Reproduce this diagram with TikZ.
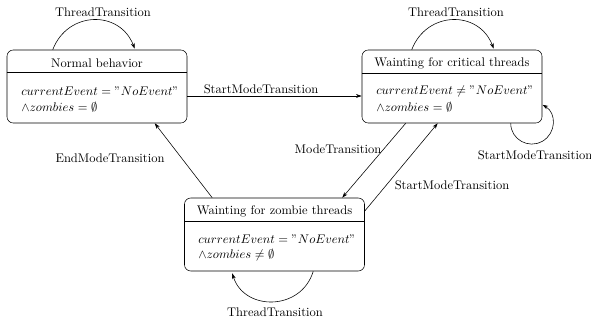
\documentclass[tikz,border=0pt]{standalone}
\usetikzlibrary{calc,arrows.meta}
\begin{document}
\begin{tikzpicture}[x=0.8pt,y=-0.8pt,line width=0.45pt,
  statebox/.style={draw,rounded corners=5pt,inner sep=0pt,minimum width=144pt,minimum height=58.4pt},
  title/.style={inner sep=0pt,anchor=center},
  body/.style={inner sep=0pt,anchor=west},
  lbl/.style={inner sep=0pt,anchor=center},
  arr/.style={-{Stealth[length=4.5pt,width=3pt,inset=1.3pt]}}]
\useasboundingbox (0,0) rectangle (591,324);
% boxes
\node[statebox] (N) at (97,86.5) {};
\node[statebox] (C) at (452,86.5) {};
\node[statebox] (Z) at (274.5,234.5) {};
\draw ($(N.north west)+(0,23)$) -- ($(N.north east)+(0,23)$);
\draw ($(C.north west)+(0,24)$) -- ($(C.north east)+(0,24)$);
\draw ($(Z.north west)+(0,24)$) -- ($(Z.north east)+(0,24)$);
% texts
\node[title] (Nt) at (97,63) {Normal behavior};
\node[body] (Nb1) at (21,91) {$currentEvent = "NoEvent"$};
\node[body] (Nb2) at (21,107) {$\wedge zombies = \emptyset$};
\node[title] (Ct) at (452,63) {Wainting for critical threads};
\node[body] (Cb1) at (376,91) {$currentEvent \neq "NoEvent"$};
\node[body] (Cb2) at (376,107) {$\wedge zombies = \emptyset$};
\node[title] (Zt) at (274.5,211) {Wainting for zombie threads};
\node[body] (Zb1) at (198,239) {$currentEvent = "NoEvent"$};
\node[body] (Zb2) at (198,255) {$\wedge zombies \neq \emptyset$};
% self loops
\coordinate (n1) at ($(N.north west)+(46,0)$);
\coordinate (n2) at ($(N.north west)+(128,-1)$);
\draw[arr] (n1) .. controls +(15,-39) and +(-15,-39) .. (n2);
\node[lbl] (ln) at (103,12) {ThreadTransition};
\coordinate (c1) at ($(C.north west)+(50,0)$);
\coordinate (c2) at ($(C.north west)+(132,-1)$);
\draw[arr] (c1) .. controls +(15,-39) and +(-15,-39) .. (c2);
\node[lbl] (lc) at (456,12) {ThreadTransition};
\coordinate (s1) at ($(C.south west)+(149,0)$);
\coordinate (sm) at (542.5,141.2);
\coordinate (s2) at (542.5,104.8);
\draw[arr] (s1) .. controls +(0,16.2) and +(-14,8.1) .. (sm)
               .. controls +(14,-8.1) and +(14,8.1) .. (s2);
\node[lbl] (ls) at (535,155) {StartModeTransition};
\coordinate (z1) at ($(Z.south west)+(129,0)$);
\coordinate (z2) at ($(Z.south west)+(48,2)$);
\draw[arr] (z1) .. controls +(-12,40) and +(12,38) .. (z2);
\node[lbl] (lz) at (275,312) {ThreadTransition};
% transitions
\draw[arr] ($(N.east)+(0,9.5)$) -- ($(C.west)+(0,9.5)$);
\node[lbl] (l1) at (261,89) {StartModeTransition};
\draw[arr] ($(Z.north west)+(28,0)$) -- ($(N.south west)+(148,0)$);
\node[lbl] (l2) at (110,158) {EndModeTransition};
\draw[arr] ($(C.south west)+(44,0)$) -- ($(Z.north west)+(158,0)$);
\node[lbl] (l3) at (338,149) {ModeTransition};
\draw[arr] ($(Z.east)+(0,-23.5)$) -- ($(C.south west)+(76,0)$);
\node[lbl] (l4) at (452,185) {StartModeTransition};
\end{tikzpicture}
\end{document}
